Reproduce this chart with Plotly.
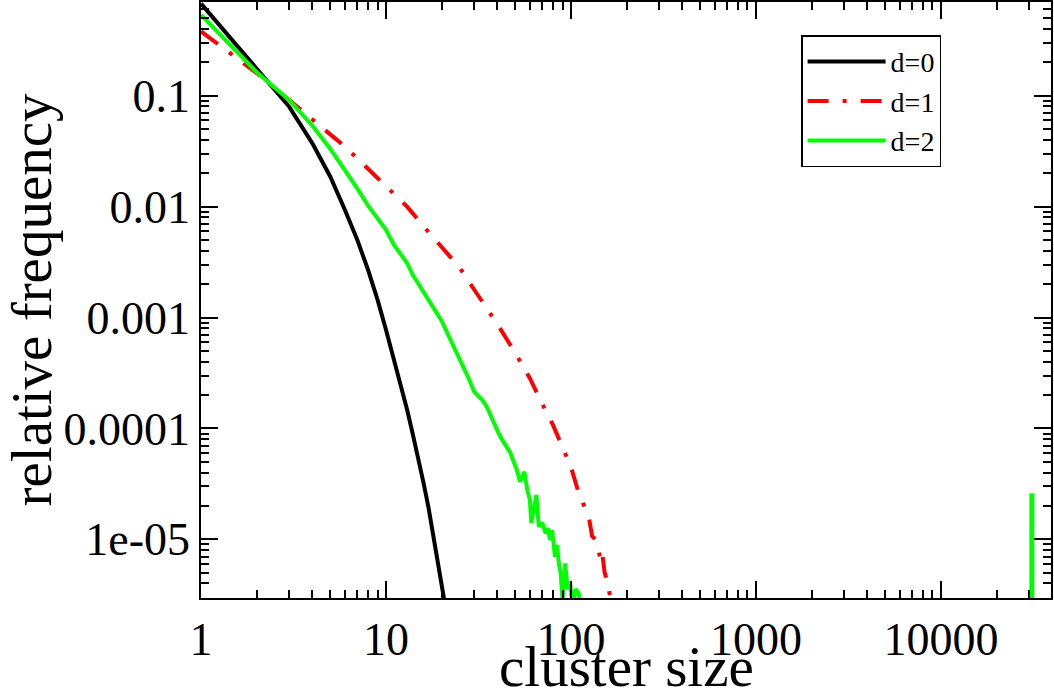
import plotly.graph_objects as go

# cluster size distributions (log-log)
sizes_d0 = [1, 2, 3, 4, 5, 6, 7, 8, 9, 10, 11, 12, 13, 14, 15, 16, 17, 18, 19, 20, 21]
freq_d0 = [0.676, 0.178, 0.0794, 0.0372, 0.0186, 0.00933, 0.00501, 0.00269, 0.00145,
           7.76e-4, 4.27e-4, 2.51e-4, 1.48e-4, 8.71e-5, 5.25e-5, 3.16e-5, 1.91e-5,
           1.12e-5, 6.76e-6, 3.98e-6, 2.40e-6]

sizes_d1 = [1, 2, 3, 4, 5, 6, 7, 8, 10, 13, 16, 20, 25, 30, 35, 40, 50, 60, 70, 80, 90,
            100, 110, 120, 125, 130, 135, 140, 145, 148, 152, 157, 163, 170]
freq_d1 = [0.380, 0.160, 0.0912, 0.0610, 0.0447, 0.0347, 0.0272, 0.0219, 0.0151, 0.0100,
           0.00661, 0.00427, 0.00282, 0.00178, 0.00123, 8.71e-4, 4.79e-4, 2.82e-4, 1.66e-4,
           1.07e-4, 6.76e-5, 4.47e-5, 2.63e-5, 1.82e-5, 1.58e-5, 1.07e-5, 1.00e-5, 8.32e-6,
           6.31e-6, 7.24e-6, 5.01e-6, 4.27e-6, 3.02e-6, 2.00e-6]

sizes_d2 = [1, 2, 3, 4, 5, 6, 7, 8, 9, 10, 11, 12, 13, 14, 15, 16, 17, 18, 19, 20, 22, 24,
            26, 28, 30, 33, 35, 38, 40, 42, 45, 47, 49, 51, 53, 56, 58, 60, 61, 63, 65, 67,
            70, 73, 75, 77, 79, 82, 84, 86, 88, 90, 93, 96, 99, 102, 106, 110, 115]
freq_d2 = [0.535, 0.163, 0.0912, 0.0537, 0.0331, 0.0214, 0.0145, 0.0102, 0.00776, 0.00617,
           0.00457, 0.00372, 0.00309, 0.00240, 0.00200, 0.00170, 0.00148, 0.00123, 0.00107,
           9.33e-4, 6.61e-4, 4.90e-4, 3.80e-4, 2.82e-4, 2.14e-4, 1.82e-4, 1.58e-4, 1.12e-4,
           9.55e-5, 8.13e-5, 6.76e-5, 6.03e-5, 5.01e-5, 4.22e-5, 3.31e-5, 4.07e-5, 2.79e-5,
           2.26e-5, 1.40e-5, 2.00e-5, 2.51e-5, 1.30e-5, 1.41e-5, 1.13e-5, 1.26e-5, 9.86e-6,
           1.21e-5, 6.97e-6, 8.91e-6, 6.07e-6, 4.93e-6, 2.82e-6, 6.07e-6, 3.55e-6, 3.98e-6,
           2.51e-6, 3.55e-6, 3.26e-6, 2.0e-6]

# the one giant cluster for d=2
giant_size_d2 = 31000
giant_freq_d2 = 2.6e-5

x_ticks = [1, 10, 100, 1000, 10000]
x_ticktext = ['1', '10', '100', '1000', '10000']
y_ticks = [0.1, 0.01, 0.001, 0.0001, 1e-05]
y_ticktext = ['0.1', '0.01', '0.001', '0.0001', '1e-05']

X_RANGE = [0, 4.595]        # log10
Y_RANGE = [-5.529, -0.155]  # log10
Y_FLOOR = 10 ** (Y_RANGE[0] - 0.2)

FONT = 'Liberation Serif'

fig = go.Figure()
fig.add_trace(go.Scatter(x=sizes_d0, y=freq_d0, mode='lines', name='d=0',
                         line=dict(color='#000000', width=4)))
fig.add_trace(go.Scatter(x=sizes_d1, y=freq_d1, mode='lines', name='d=1',
                         line=dict(color='#ff0000', width=4, dash='21px,14px,4px,14px')))
fig.add_trace(go.Scatter(x=sizes_d2, y=freq_d2, mode='lines', name='d=2',
                         line=dict(color='#00ff00', width=4)))
fig.add_trace(go.Scatter(x=[giant_size_d2, giant_size_d2], y=[giant_freq_d2, Y_FLOOR],
                         mode='lines', showlegend=False,
                         line=dict(color='#00ff00', width=5)))

minor_x = [m * 10 ** k for k in range(0, 5) for m in range(2, 10)]
minor_y = [m * 10 ** k for k in range(-7, 0) for m in range(2, 10)]

axis_common = dict(
    type='log', showgrid=False, zeroline=False, automargin=False,
    showline=True, linecolor='black', linewidth=1.5, mirror='allticks',
    ticks='inside', ticklen=17, tickwidth=1.5, tickcolor='black',
    tickmode='array',
    tickfont=dict(family=FONT, size=46, color='black'),
)

fig.update_xaxes(
    **axis_common, range=X_RANGE, tickvals=x_ticks, ticktext=x_ticktext,
    minor=dict(ticks='inside', ticklen=8, tickwidth=1.5, tickcolor='black',
               tickmode='array', tickvals=minor_x, showgrid=False),
)
fig.update_yaxes(
    **axis_common, range=Y_RANGE, tickvals=y_ticks, ticktext=y_ticktext,
    minor=dict(ticks='inside', ticklen=8, tickwidth=1.5, tickcolor='black',
               tickmode='array', tickvals=minor_y, showgrid=False),
    title=dict(text='relative frequency', font=dict(family=FONT, size=57, color='black'),
               standoff=10),
)

# x title as an annotation so it can sit closer to the tick labels
fig.add_annotation(text='cluster size', xref='paper', yref='paper', x=0.5, y=-0.059,
                   xanchor='center', yanchor='top', showarrow=False,
                   font=dict(family=FONT, size=57, color='black'))

fig.update_layout(
    width=1054, height=692,
    margin=dict(l=201, r=3, t=2, b=94),
    paper_bgcolor='white', plot_bgcolor='white',
    font=dict(family=FONT, color='black'),
    legend=dict(x=0.706, y=0.944, xanchor='left', yanchor='top',
                bgcolor='white', bordercolor='black', borderwidth=1.5,
                font=dict(family=FONT, size=28, color='black'),
                itemwidth=78, tracegroupgap=0),
)

# drop the browser's default 8px body margin so the figure fills the window
fig.write_html('out.html', config={'displayModeBar': False},
               post_script="document.body.style.margin='0';")
